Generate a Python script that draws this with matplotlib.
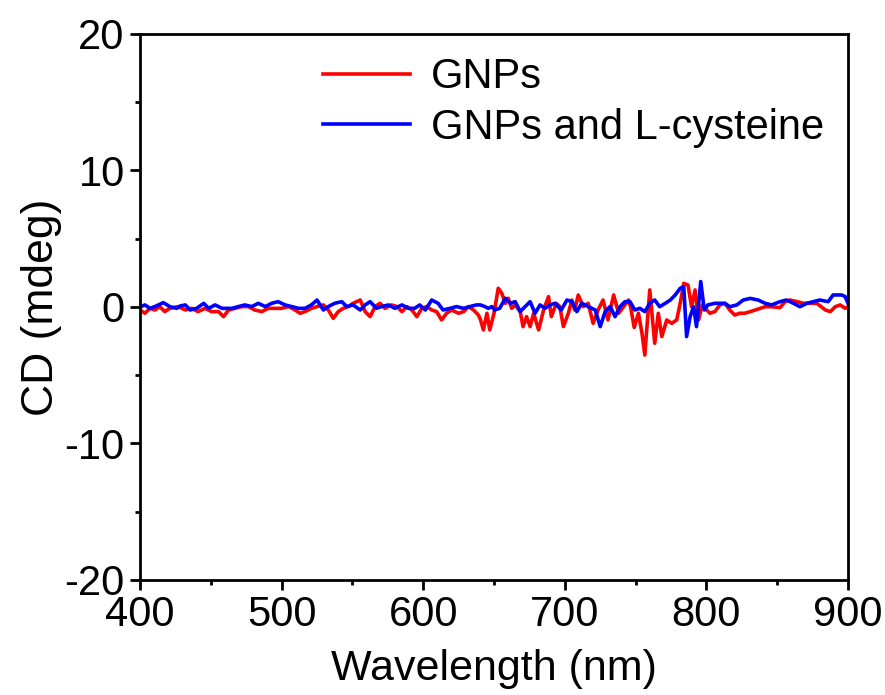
import numpy as np
import matplotlib
matplotlib.use('Agg')
import matplotlib.pyplot as plt
from matplotlib.ticker import MultipleLocator

plt.rcParams['font.family'] = ['Liberation Sans', 'DejaVu Sans']
plt.rcParams['axes.unicode_minus'] = False

# GNPs (red)
red_wl = [400, 403.5, 407, 410.5, 414, 417.5, 421, 427, 432, 436.5, 441, 446, 450.5, 455.5, 459,
          462.5, 467, 472, 476.5, 481, 486, 490.5, 495.5, 500, 505, 509.5, 513, 516.5, 521, 525,
          529.5, 533, 536.5, 540, 543.5, 547, 550.5, 555.5, 559, 562.5, 566, 569.5, 573, 577.5,
          581.5, 585, 588.5, 592, 595.5, 599, 602.5, 606, 609.5, 613, 616.5, 620, 625, 628.5, 632,
          635.5, 639, 640.5, 642.5, 645, 647, 650, 653, 655.5, 658, 660, 662.5, 665, 668.5, 670.5,
          673, 675.5, 678, 681.5, 685, 688.5, 690.5, 694, 696.5, 699, 702.5, 705, 707, 709.5, 713,
          716.5, 720, 723.5, 727, 730.5, 734.5, 738, 741.5, 745, 746.5, 749, 752, 754.5, 756.5,
          760, 763.5, 766, 768.5, 772, 775.5, 779, 781.5, 784, 787, 789.5, 792, 794.5, 797, 799,
          802.5, 806, 809.5, 813, 816.5, 820, 823.5, 827, 831, 834.5, 838, 841.5, 846, 852, 855.5,
          859, 864, 868.5, 873, 878, 884, 887.5, 891, 894.5, 898, 900]
red_cd = [-0.22, -0.46, -0.10, -0.22, 0.03, -0.34, -0.10, 0.03, -0.22, -0.10, -0.34, -0.10, -0.34,
          -0.34, -0.71, -0.22, -0.10, 0.03, 0.03, -0.22, -0.34, -0.10, -0.10, -0.10, 0.03, -0.22,
          -0.46, -0.34, -0.10, 0.03, 0.15, -0.22, -0.83, -0.34, -0.10, 0.03, 0.27, 0.51, -0.34,
          -0.71, 0.03, 0.27, -0.10, 0.15, 0.03, -0.34, 0.03, -0.22, -0.71, -0.10, 0.03, -0.22,
          -0.34, -0.95, -0.46, -0.22, -0.46, -0.34, 0.03, -0.22, -0.59, -0.95, -1.68, -0.46, -1.68,
          -0.46, 1.37, 1.00, 0.27, 0.64, -0.10, 0.15, -0.34, -1.44, -0.71, -1.44, -0.46, -1.68,
          -0.22, 0.76, -0.71, 0.27, 0.03, -1.44, -0.46, 0.51, -0.22, 0.88, 0.03, 0.27, -1.20, -0.22,
          0.51, -0.95, 0.88, -0.46, 0.03, 0.51, 0.0, -1.50, -0.46, -1.93, -3.52, 1.25, -2.66, -0.46,
          -2.17, -0.95, -1.20, -0.95, 0.27, 1.73, 1.61, 0.02, 1.25, -0.95, 0.15, -0.10, -0.46,
          -0.34, 0.15, 0.27, -0.22, -0.59, -0.46, -0.46, -0.34, -0.22, -0.10, 0.02, 0.02, -0.05,
          0.39, 0.51, 0.39, 0.27, 0.27, 0.27, -0.22, -0.34, 0.02, 0.15, -0.10, 0.02]

# GNPs and L-cysteine (blue)
blue_wl = [400, 403.5, 407, 410.5, 416.5, 421, 426, 428.5, 432, 435.5, 440, 445, 448.5, 453, 458,
           465, 469.5, 474, 479, 483.5, 488.5, 493, 497.5, 502.5, 507, 512, 516.5, 521, 525, 529.5,
           533, 537.5, 542.5, 546, 550.5, 555.5, 559, 562.5, 567, 570.5, 575.5, 580, 585, 589.5,
           594, 597.5, 601.5, 606, 610.5, 614, 619, 623.5, 628.5, 633, 637.5, 640.5, 643.5, 646,
           648.5, 650.5, 654, 658, 661.5, 665, 668.5, 672, 675.5, 679, 682.5, 686, 689.5, 693,
           697.5, 701.5, 705, 708.5, 712, 716.5, 721.5, 725, 728.5, 732, 735.5, 739, 742.5, 746,
           749.5, 753, 756.5, 760, 763.5, 767, 771, 774.5, 778, 781.5, 784, 786, 788.5, 791, 793,
           796, 798.5, 801, 806, 813, 816.5, 821.5, 826, 831, 836.5, 841.5, 846, 852, 856.5, 861.5,
           866, 871, 875.5, 880, 886, 889.5, 895.5, 898, 900]
blue_cd = [0.0, 0.15, -0.10, 0.03, 0.32, 0.03, -0.10, 0.08, 0.15, -0.22, -0.10, 0.27, -0.10, 0.15,
           -0.10, -0.10, 0.03, 0.15, 0.03, 0.27, 0.03, 0.27, 0.39, 0.15, 0.03, -0.10, -0.10, 0.15,
           0.51, -0.22, 0.03, 0.27, 0.39, 0.03, 0.15, -0.22, 0.15, 0.39, -0.10, 0.03, 0.15, -0.10,
           0.15, -0.10, -0.10, 0.15, -0.22, 0.51, 0.27, -0.22, -0.10, 0.03, -0.10, 0.03, 0.15, 0.15,
           0.03, -0.10, 0.03, -0.22, -0.10, 0.64, 0.27, 0.39, -0.34, 0.03, 0.39, -0.46, 0.15, -0.10,
           0.15, 0.27, -0.22, 0.51, 0.39, -0.34, 0.27, 0.03, -0.22, -1.44, -0.34, 0.03, -0.71, 0.03,
           0.39, 0.39, -0.22, -0.10, -0.34, 0.27, 0.51, 0.02, 0.27, 0.51, 0.88, 1.37, 1.49, -2.17,
           -0.71, 0.02, -1.44, 1.86, -0.22, 0.15, 0.27, 0.27, 0.02, 0.15, 0.51, 0.63, 0.51, 0.27,
           0.15, 0.39, 0.51, 0.27, 0.02, 0.27, 0.39, 0.51, 0.39, 0.88, 0.88, 0.76, 0.27]

fig = plt.figure(figsize=(8.85, 6.95), dpi=100)
ax = fig.add_axes([0.1582, 0.1655, 0.8, 0.7856])

ax.plot(red_wl, red_cd, '-', color='#ff0000', lw=2.6, label='GNPs')
ax.plot(blue_wl, blue_cd, '-', color='#0000ff', lw=2.6, label='GNPs and L-cysteine')

ax.set_xlim(400, 900)
ax.set_ylim(-20, 20)
ax.xaxis.set_major_locator(MultipleLocator(100))
ax.xaxis.set_minor_locator(MultipleLocator(50))
ax.yaxis.set_major_locator(MultipleLocator(10))
ax.yaxis.set_minor_locator(MultipleLocator(5))
ax.tick_params(which='both', direction='out', width=2.0, top=False, right=False, labelsize=30)
ax.tick_params(which='major', length=7, pad=4)
ax.tick_params(which='minor', length=3.5)
for s in ax.spines.values():
    s.set_linewidth(2.0)

ax.set_xlabel('Wavelength (nm)', fontsize=31, labelpad=10)
ax.set_ylabel('CD (mdeg)', fontsize=32, labelpad=2)

ax.legend(loc='upper left', bbox_to_anchor=(0.258, 0.957), frameon=False, fontsize=30,
          handlelength=2.1, handletextpad=0.5, labelspacing=0.25, borderpad=0, borderaxespad=0)

fig.savefig('out.png', dpi=100)
